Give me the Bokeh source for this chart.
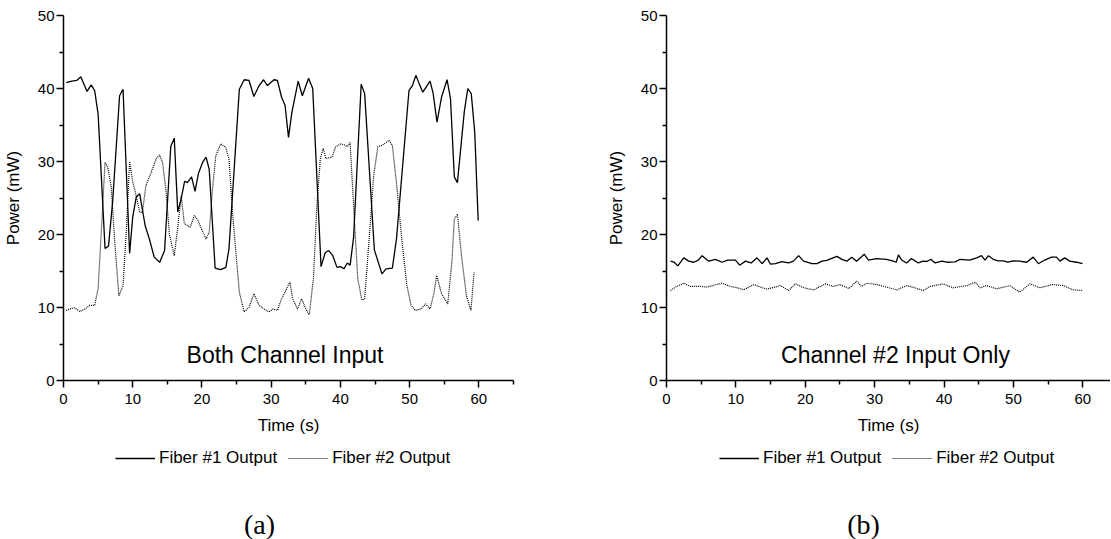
from bokeh.plotting import figure
from bokeh.models import FixedTicker, Legend, LegendItem, Label, Range1d
from bokeh.layouts import row, column
from bokeh.embed import file_html
from bokeh.resources import INLINE

# ---------------- data ----------------
# (a) Both Channel Input
time_a1 = [0.4, 1.2, 1.9, 2.5, 3.4, 4.0, 4.5, 5.0, 6.0, 6.5,
           7.1, 8.1, 8.6, 9.55, 10.0, 10.5, 11.0, 11.45, 11.8, 12.4,
           13.1, 13.9, 14.6, 15.5, 16.0, 16.5, 17.0, 17.5, 17.9, 18.5,
           19.0, 19.5, 20.1, 20.6, 21.05, 21.9, 22.7, 23.45, 23.9, 25.4,
           26.1, 26.8, 27.5, 28.25, 28.9, 29.45, 30.4, 30.9, 31.5, 32.0,
           32.5, 33.0, 33.9, 34.5, 35.4, 36.0, 37.2, 37.8, 38.3, 38.9,
           39.5, 40.0, 40.5, 41.0, 41.4, 41.9, 43.0, 43.5, 44.9, 46.0,
           46.6, 47.5, 48.1, 49.9, 50.4, 50.9, 51.4, 51.9, 52.95, 53.4,
           53.95, 54.6, 55.4, 55.9, 56.45, 56.9, 57.9, 58.4, 58.9, 59.4,
           59.9]
fiber1_a = [40.8, 41.0, 41.1, 41.6, 39.6, 40.5, 39.7, 36.5, 18.1, 18.4,
            24.5, 39.0, 39.9, 17.4, 22.4, 25.1, 25.6, 23.1, 21.2, 19.4,
            16.9, 16.2, 17.8, 32.1, 33.2, 23.1, 24.9, 27.3, 27.1, 27.9,
            25.9, 28.4, 29.9, 30.6, 28.9, 15.4, 15.2, 15.5, 18.0, 39.9,
            41.2, 41.1, 38.9, 40.4, 41.2, 40.4, 41.2, 41.1, 38.8, 37.7,
            33.3, 36.8, 41.0, 39.0, 41.4, 40.0, 15.6, 17.5, 17.8, 17.1,
            15.5, 15.6, 15.3, 16.1, 15.8, 19.6, 40.6, 39.3, 17.9, 14.6,
            15.3, 15.4, 19.4, 39.7, 40.4, 41.8, 40.6, 39.5, 41.0, 39.3,
            35.4, 38.8, 41.2, 38.6, 27.9, 27.1, 36.9, 40.0, 39.3, 34.0,
            21.9]

time_a2 = [0.4, 0.9, 1.6, 2.35, 3.1, 3.8, 4.5, 5.0, 5.5, 6.0,
           6.4, 6.9, 7.4, 8.0, 8.6, 9.1, 9.55, 10.0, 10.5, 11.0,
           11.4, 11.9, 12.66, 13.4, 13.86, 14.3, 14.8, 15.3, 16.0, 16.5,
           17.0, 17.45, 18.3, 18.9, 19.4, 19.9, 20.6, 21.05, 21.5, 22.0,
           22.7, 23.4, 23.9, 24.5, 25.4, 26.1, 26.8, 27.5, 28.25, 28.97,
           29.7, 30.3, 30.9, 31.5, 32.1, 32.7, 33.1, 33.8, 34.4, 35.0,
           35.5, 36.1, 36.6, 37.1, 37.5, 37.9, 38.8, 39.3, 40.0, 40.5,
           41.0, 41.4, 41.9, 42.5, 43.1, 43.5, 44.2, 44.8, 45.4, 46.0,
           46.6, 47.05, 47.5, 48.1, 48.9, 49.6, 50.2, 50.8, 51.65, 52.3,
           52.95, 53.5, 53.9, 54.6, 55.5, 56.1, 56.45, 56.9, 57.5, 58.2,
           58.85, 59.3]
fiber2_a = [9.6, 9.8, 9.95, 9.45, 9.8, 10.3, 10.3, 12.6, 21.0, 29.9,
            29.2, 26.5, 19.0, 11.6, 13.0, 21.0, 30.0, 27.2, 25.3, 23.1,
            23.0, 26.7, 28.5, 30.4, 30.9, 29.9, 26.0, 20.0, 17.1, 21.0,
            25.3, 21.5, 21.0, 22.6, 22.0, 20.8, 19.4, 20.3, 26.0, 30.8,
            32.4, 32.0, 30.4, 22.0, 12.1, 9.4, 10.0, 11.9, 10.3, 9.8,
            9.4, 9.8, 9.6, 11.2, 12.3, 13.5, 11.2, 9.8, 11.2, 9.8,
            9.0, 14.0, 24.0, 30.4, 31.8, 30.4, 30.6, 32.0, 32.4, 32.3,
            32.05, 32.6, 24.0, 14.0, 11.0, 11.2, 20.0, 28.0, 32.0, 32.2,
            32.6, 32.9, 32.2, 27.0, 19.0, 13.0, 10.3, 9.6, 9.8, 10.5,
            9.8, 11.9, 14.4, 11.9, 10.5, 16.2, 22.1, 22.8, 17.0, 11.6,
            9.6, 14.8]

# (b) Channel #2 Input Only
time_b1 = [0.58, 1.1, 1.63, 2.49, 3.2, 3.93, 4.6, 5.13, 6.09, 7.05,
           8.0, 8.8, 9.93, 10.55, 11.37, 12.2, 13.05, 13.77, 14.5, 14.96,
           15.7, 16.64, 17.6, 18.3, 19.04, 19.76, 20.96, 21.7, 22.4, 23.1,
           24.56, 25.3, 25.99, 26.7, 27.4, 28.5, 29.1, 30.3, 31.7, 32.7,
           33.1, 33.43, 33.9, 34.6, 35.3, 36.3, 37.0, 37.5, 38.1, 38.7,
           39.7, 40.4, 41.6, 42.3, 43.7, 44.7, 45.4, 45.9, 46.4, 47.1,
           47.8, 48.5, 49.25, 49.9, 50.9, 51.9, 52.85, 53.6, 54.5, 55.5,
           56.2, 56.7, 57.4, 58.1, 59.1, 59.96]
fiber1_b = [16.35, 16.2, 15.7, 16.8, 16.35, 16.2, 16.5, 17.1, 16.35, 16.6,
            16.2, 16.5, 16.5, 15.8, 16.35, 16.1, 16.8, 16.0, 16.8, 15.95,
            16.0, 16.3, 16.1, 16.35, 17.1, 16.35, 16.0, 16.0, 16.35, 16.45,
            17.0, 16.6, 16.35, 16.9, 16.35, 17.3, 16.5, 16.7, 16.6, 16.35,
            16.2, 17.2, 16.5, 16.1, 16.7, 16.1, 16.35, 16.3, 16.6, 16.1,
            16.35, 16.2, 16.25, 16.6, 16.5, 16.8, 17.1, 16.5, 17.1, 16.6,
            16.4, 16.4, 16.2, 16.4, 16.35, 16.2, 16.9, 16.0, 16.5, 16.9,
            16.9, 16.35, 16.8, 16.35, 16.2, 16.0]

time_b2 = [0.58, 1.3, 2.5, 3.45, 4.89, 5.85, 7.0, 8.0, 9.2, 10.2,
           11.1, 12.6, 13.5, 14.5, 16.4, 17.6, 18.6, 19.8, 21.2, 22.9,
           24.1, 25.0, 26.3, 27.4, 28.1, 28.9, 30.3, 31.7, 33.2, 34.6,
           35.8, 37.0, 38.0, 39.9, 41.3, 43.3, 44.5, 45.2, 46.1, 47.6,
           49.5, 50.9, 52.4, 53.8, 55.7, 57.2, 58.6, 59.95]
fiber2_b = [12.33, 12.8, 13.33, 12.88, 12.9, 12.79, 13.1, 13.33, 12.88, 12.7,
            12.42, 13.15, 12.8, 12.51, 13.0, 12.33, 13.24, 12.7, 12.42, 13.24,
            12.88, 13.15, 12.6, 13.6, 12.88, 13.33, 13.15, 12.79, 12.42, 13.0,
            12.7, 12.33, 12.88, 13.24, 12.7, 13.0, 13.47, 12.7, 13.0, 12.56,
            13.0, 12.1, 13.24, 12.7, 13.15, 13.0, 12.42, 12.33]

x_ticks = [0, 10, 20, 30, 40, 50, 60]
x_minor = [5, 15, 25, 35, 45, 55, 65]
y_ticks = [0, 10, 20, 30, 40, 50]
y_minor = [5, 15, 25, 35, 45]
series_names = ["Fiber #1 Output", "Fiber #2 Output"]

SANS = "Liberation Sans"
SERIF = "Liberation Serif"
PX_PER_S = 451 / 65.0      # horizontal scale shared by both panels
MAIN_H = 440               # plot part (frame + axes)
FOOT_H = 99                # legend + panel tag


def make_panel(t1, v1, t2, v2, note, note_x, x_end, width, min_left, min_right):
    p = figure(width=width, height=MAIN_H,
               x_range=(0, x_end), y_range=(0, 50),
               output_backend="svg", toolbar_location=None,
               min_border_left=min_left, min_border_right=min_right,
               min_border_top=15, min_border_bottom=60,
               x_axis_label="Time (s)", y_axis_label="Power (mW)")
    p.xgrid.visible = False
    p.ygrid.visible = False
    p.outline_line_color = None

    p.xaxis.ticker = FixedTicker(ticks=x_ticks, minor_ticks=x_minor)
    p.yaxis.ticker = FixedTicker(ticks=y_ticks, minor_ticks=y_minor)
    for ax in (p.xaxis[0], p.yaxis[0]):
        ax.axis_line_width = 1.5
        ax.axis_line_color = "black"
        ax.major_tick_line_width = 1.5
        ax.minor_tick_line_width = 1.5
        ax.major_tick_line_color = "black"
        ax.minor_tick_line_color = "black"
        ax.major_tick_out = 7
        ax.major_tick_in = 0
        ax.minor_tick_out = 4
        ax.minor_tick_in = 0
        ax.major_label_text_font = SANS
        ax.major_label_text_font_size = "15px"
        ax.major_label_text_color = "black"
        ax.axis_label_text_font = SANS
        ax.axis_label_text_font_size = "17px"
        ax.axis_label_text_font_style = "normal"
        ax.axis_label_text_color = "black"
    p.xaxis[0].major_label_standoff = 6
    p.xaxis[0].axis_label_standoff = 9
    p.yaxis[0].major_label_standoff = 2
    p.yaxis[0].axis_label_standoff = 12

    p.line(t1, v1, line_color="black", line_width=1.3)
    p.line(t2, v2, line_color="black", line_width=1.2, line_dash="1 1")

    p.add_layout(Label(x=note_x, y=3.56, text=note, text_align="center",
                       text_baseline="alphabetic", text_font=SANS,
                       text_font_size="23px", text_color="black"))
    return p


def make_footer(t1, v1, t2, v2, tag, width, legend_x, tag_x):
    # footer strip: legend + panel tag; its coordinates are pixels of the strip
    f = figure(width=width, height=FOOT_H, x_range=(0, width), y_range=(0, FOOT_H),
               output_backend="svg", toolbar_location=None,
               x_axis_type=None, y_axis_type=None,
               min_border_left=0, min_border_right=0,
               min_border_top=0, min_border_bottom=0)
    f.xgrid.visible = False
    f.ygrid.visible = False
    f.outline_line_color = None
    # the series again on a hidden range (off-strip), only to key the legend
    f.extra_y_ranges = {"hidden": Range1d(1000, 2000)}
    r1 = f.line(t1, v1, line_color="black", line_width=1.3, y_range_name="hidden")
    r2 = f.line(t2, v2, line_color="black", line_width=1.2, line_dash="1 1",
                y_range_name="hidden")
    legend = Legend(items=[LegendItem(label=series_names[0], renderers=[r1]),
                           LegendItem(label=series_names[1], renderers=[r2])],
                    orientation="horizontal", location=(legend_x, 71),
                    border_line_color=None, background_fill_alpha=0,
                    label_text_font=SANS, label_text_font_size="17px",
                    label_text_color="black",
                    glyph_width=40, glyph_height=20, label_standoff=4,
                    spacing=11, padding=0, margin=0)
    f.add_layout(legend, "center")
    f.add_layout(Label(x=tag_x, y=15, text=tag, text_align="center",
                       text_baseline="middle", text_font=SERIF,
                       text_font_size="28px", text_color="black"))
    return f


LEFT_W = 560    # 8 px page edge + 54 px axis area + 451 px frame + 47 px gap
RIGHT_W = 550   # 106 px axis area + 444 px frame

p1 = make_panel(time_a1, fiber1_a, time_a2, fiber2_a, "Both Channel Input", 32.0,
                65, LEFT_W, 62, 47)
p2 = make_panel(time_b1, fiber1_b, time_b2, fiber2_b, "Channel #2 Input Only", 33.0,
                444 / PX_PER_S, RIGHT_W, 106, 0)
f1 = make_footer(time_a1, fiber1_a, time_a2, fiber2_a, "(a)", LEFT_W, 115, 259)
f2 = make_footer(time_b1, fiber1_b, time_b2, fiber2_b, "(b)", RIGHT_W, 159, 303)

layout = column(row(p1, p2), row(f1, f2))
open("out.html", "w").write(file_html(layout, INLINE))
